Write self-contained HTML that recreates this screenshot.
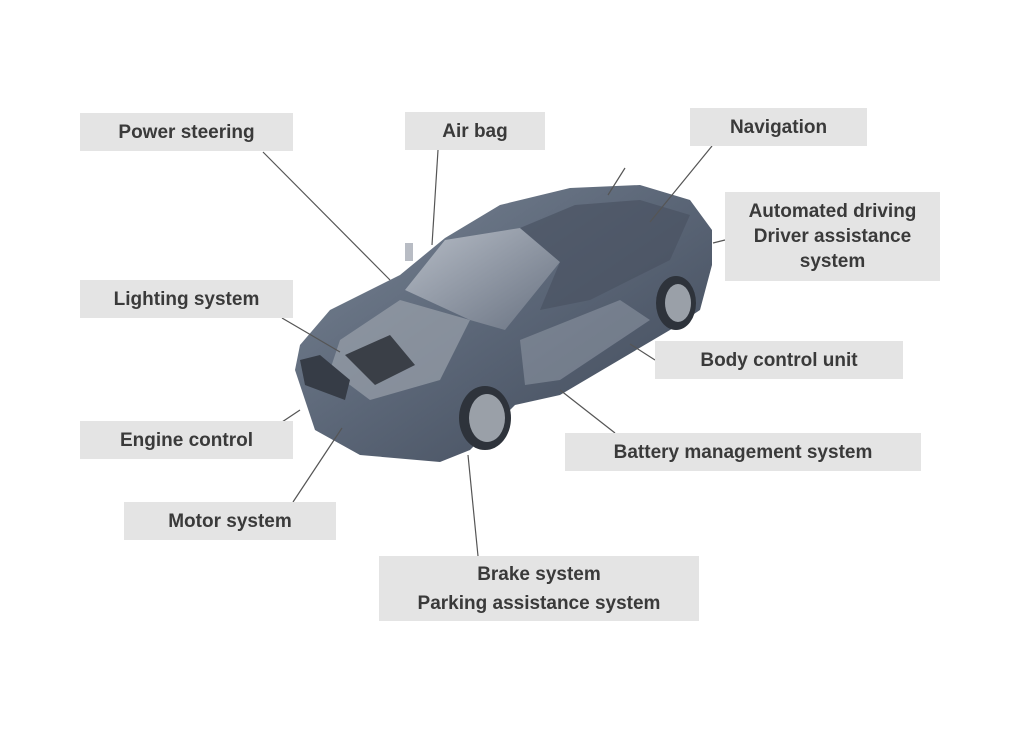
<!DOCTYPE html>
<html><head><meta charset="utf-8"><style>
body{margin:0;width:1024px;height:729px;background:#fff;position:relative;overflow:hidden;font-family:"Liberation Sans",sans-serif}
.b{position:absolute;background:#e4e4e4;color:#3a3a3a;font-weight:bold;font-size:19px;text-align:center;display:flex;align-items:center;justify-content:center;line-height:25px}
svg{position:absolute;left:0;top:0}
</style></head><body>
<svg width="1024" height="729">
<defs>
<linearGradient id="g" x1="0" y1="0" x2="1" y2="1">
<stop offset="0" stop-color="#7a8696"/><stop offset="0.5" stop-color="#5a6576"/><stop offset="1" stop-color="#3e4756"/></linearGradient>
<linearGradient id="w" x1="0" y1="0" x2="1" y2="1"><stop offset="0" stop-color="#c9ced6"/><stop offset="1" stop-color="#6d7685"/></linearGradient>
</defs>
<path d="M295,370 L300,345 L330,310 L400,275 L445,238 L500,205 L570,188 L640,185 L690,200 L712,230 L712,265 L700,310 L670,330 L560,395 L515,405 L470,450 L440,462 L360,455 L315,430 Z" fill="url(#g)"/>
<path d="M405,290 L445,240 L520,228 L560,262 L505,330 L470,320 Z" fill="url(#w)" opacity="0.8"/>
<path d="M520,228 L575,205 L640,200 L690,215 L670,260 L590,300 L540,310 L560,262 Z" fill="#4a5362" opacity="0.7"/>
<path d="M340,340 L400,300 L470,320 L440,380 L370,400 L330,370 Z" fill="#9aa1ab" opacity="0.7"/>
<path d="M345,355 L390,335 L415,365 L375,385 Z" fill="#3a3f47"/>
<path d="M300,360 L320,355 L350,380 L345,400 L305,385 Z" fill="#363c46"/>
<path d="M520,340 L620,300 L650,320 L560,380 L525,385 Z" fill="#8c95a2" opacity="0.6"/>
<ellipse cx="485" cy="418" rx="26" ry="32" fill="#2e333b"/><ellipse cx="487" cy="418" rx="18" ry="24" fill="#9aa0a8"/>
<ellipse cx="676" cy="303" rx="20" ry="27" fill="#2e333b"/><ellipse cx="678" cy="303" rx="13" ry="19" fill="#9aa0a8"/>
<rect x="405" y="243" width="8" height="18" fill="#b8bcc4" />
<g stroke="#555" stroke-width="1.2" fill="none">
<line x1="263" y1="152" x2="390" y2="280"/>
<line x1="438" y1="150" x2="432" y2="245"/>
<line x1="712" y1="146" x2="650" y2="222"/>
<line x1="625" y1="168" x2="608" y2="195"/>
<line x1="725" y1="240" x2="713" y2="243"/>
<line x1="282" y1="318" x2="340" y2="352"/>
<line x1="655" y1="360" x2="630" y2="344"/>
<line x1="282" y1="422" x2="300" y2="410"/>
<line x1="615" y1="433" x2="560" y2="390"/>
<line x1="293" y1="502" x2="342" y2="428"/>
<line x1="478" y1="556" x2="468" y2="455"/>
</g>
</svg>
<div class="b" style="left:80px;top:113px;width:213px;height:38px">Power steering</div>
<div class="b" style="left:405px;top:112px;width:140px;height:38px">Air bag</div>
<div class="b" style="left:690px;top:108px;width:177px;height:38px">Navigation</div>
<div class="b" style="left:725px;top:192px;width:215px;height:89px">Automated driving<br>Driver assistance<br>system</div>
<div class="b" style="left:80px;top:280px;width:213px;height:38px">Lighting system</div>
<div class="b" style="left:655px;top:341px;width:248px;height:38px">Body control unit</div>
<div class="b" style="left:80px;top:421px;width:213px;height:38px">Engine control</div>
<div class="b" style="left:565px;top:433px;width:356px;height:38px">Battery management system</div>
<div class="b" style="left:124px;top:502px;width:212px;height:38px">Motor system</div>
<div class="b" style="left:379px;top:556px;width:320px;height:65px;line-height:29px">Brake system<br>Parking assistance system</div>
</body></html>
